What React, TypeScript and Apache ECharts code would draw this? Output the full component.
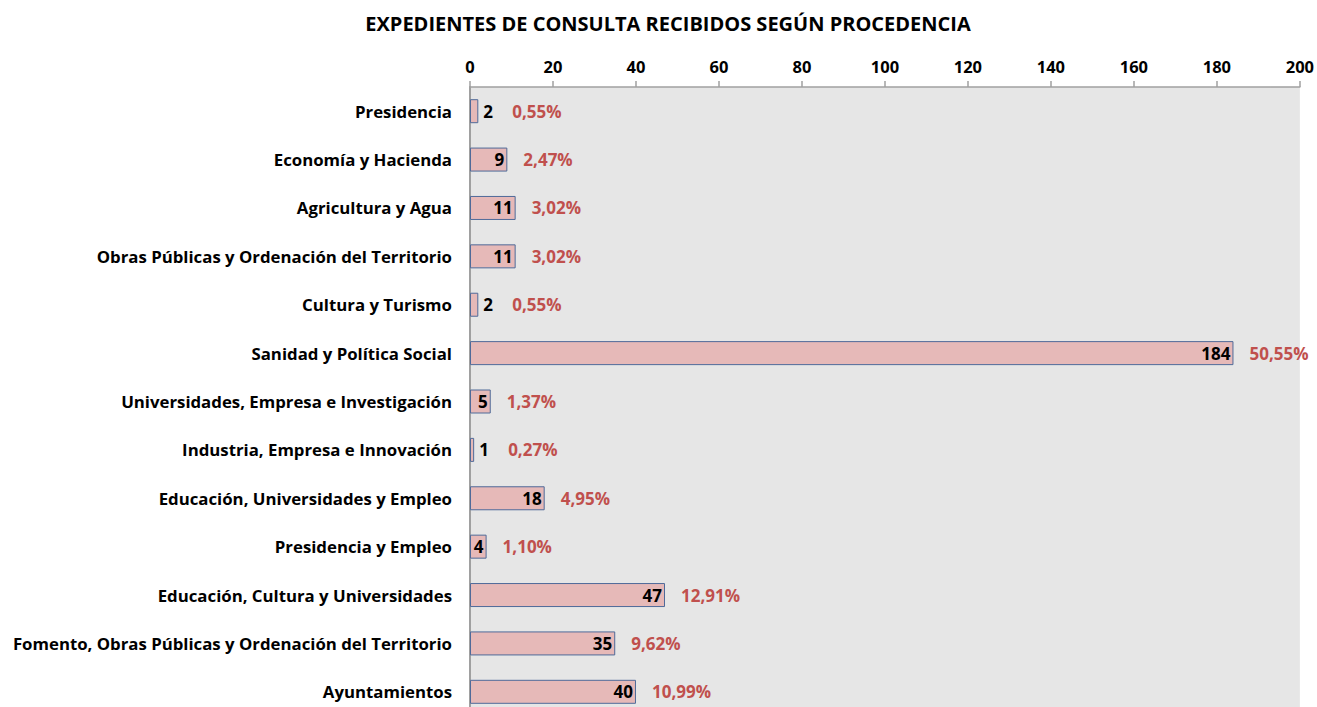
import React, { useEffect, useRef } from "react";
import * as echarts from "echarts";

const categories = [
  "Presidencia",
  "Economía y Hacienda",
  "Agricultura y Agua",
  "Obras Públicas y Ordenación del Territorio",
  "Cultura y Turismo",
  "Sanidad y Política Social",
  "Universidades, Empresa e Investigación",
  "Industria, Empresa e Innovación",
  "Educación, Universidades y Empleo",
  "Presidencia y Empleo",
  "Educación, Cultura y Universidades",
  "Fomento, Obras Públicas y Ordenación del Territorio",
  "Ayuntamientos",
];
const values = [2, 9, 11, 11, 2, 184, 5, 1, 18, 4, 47, 35, 40];
const percentLabels = [
  "0,55%", "2,47%", "3,02%", "3,02%", "0,55%", "50,55%", "1,37%",
  "0,27%", "4,95%", "1,10%", "12,91%", "9,62%", "10,99%",
];
const xTicks = { min: 0, max: 200, interval: 20 };
const title = "EXPEDIENTES DE CONSULTA RECIBIDOS SEGÚN PROCEDENCIA";

const FONT = "Open Sans";

export default function App() {
  const ref = useRef<HTMLDivElement>(null);
  useEffect(() => {
    if (!ref.current) return;
    const chart = echarts.init(ref.current, undefined, { renderer: "svg" });
    const outside = (v: number) => v < 3;
    chart.setOption({
      animation: false,
      title: {
        text: title,
        left: 663,
        textAlign: "center",
        top: 8,
        textStyle: { fontFamily: FONT, fontSize: 20, fontWeight: "bold", color: "#000" },
      },
      grid: {
        left: 470,
        top: 87,
        width: 830,
        height: 629,
        show: true,
        backgroundColor: "#E6E6E6",
        borderWidth: 0,
        containLabel: false,
      },
      xAxis: {
        type: "value",
        position: "top",
        min: xTicks.min,
        max: xTicks.max,
        interval: xTicks.interval,
        axisLine: { show: true, lineStyle: { color: "#A0A0A0", width: 1.5 } },
        axisTick: { show: true, length: 6, lineStyle: { color: "#A0A0A0", width: 1.5 } },
        splitLine: { show: false },
        axisLabel: {
          fontFamily: FONT,
          fontSize: 16.5,
          fontWeight: "bold",
          color: "#000",
          margin: 12,
        },
      },
      yAxis: {
        type: "category",
        data: categories,
        inverse: true,
        axisLine: { show: true, lineStyle: { color: "#A0A0A0", width: 2 } },
        axisTick: { show: false },
        axisLabel: {
          fontFamily: FONT,
          fontSize: 16.8,
          fontWeight: "bold",
          color: "#000",
          margin: 18,
        },
      },
      series: [
        {
          type: "bar",
          barWidth: 24,
          data: values.map((v) => ({
            value: v,
            label: outside(v)
              ? { position: "right", distance: 5 }
              : { position: "insideRight", distance: 3 },
          })),
          itemStyle: { color: "#E6B9B8", borderColor: "#4F6A99", borderWidth: 1 },
          label: {
            show: true,
            fontFamily: FONT,
            fontSize: 17,
            fontWeight: "bold",
            color: "#000",
          },
          z: 3,
        },
        {
          type: "bar",
          barWidth: 24,
          barGap: "-100%",
          silent: true,
          data: values.map((v, i) => ({
            value: v,
            label: {
              formatter: percentLabels[i],
              distance: outside(v) ? 34 : 16,
            },
          })),
          itemStyle: { color: "rgba(0,0,0,0)" },
          label: {
            show: true,
            position: "right",
            fontFamily: FONT,
            fontSize: 17,
            fontWeight: "bold",
            color: "#C0504D",
          },
          z: 2,
        },
      ],
    });
    return () => chart.dispose();
  }, []);
  return (
    <div style={{ position: "fixed", left: 0, top: 0, width: 1317, height: 707, overflow: "hidden", background: "#fff" }}>
      <div ref={ref} style={{ width: 1317, height: 740 }} />
    </div>
  );
}
